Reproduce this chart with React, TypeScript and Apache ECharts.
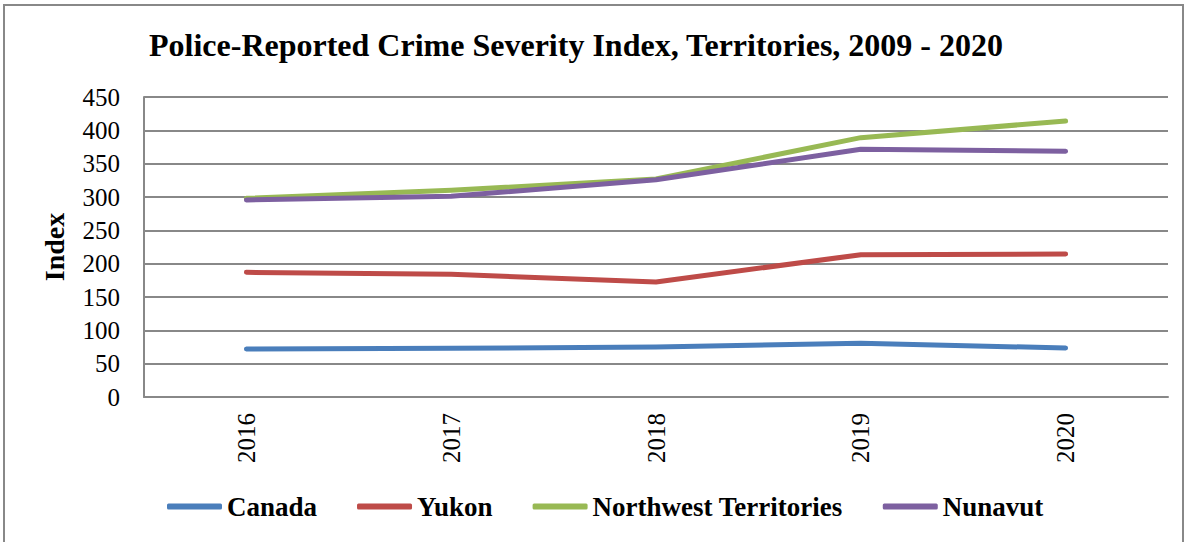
import React, { useEffect, useRef } from "react";
import * as echarts from "echarts";

const years = ["2016", "2017", "2018", "2019", "2020"];
const canada = [72, 73, 75, 80.5, 73.5];
const yukon = [187, 184, 172.5, 213.5, 214.5];
const northwest = [298, 310, 327, 389, 414];
const nunavut = [295.5, 301, 326, 371.5, 368.5];
const seriesNames = ["Canada", "Yukon", "Northwest Territories", "Nunavut"];
const seriesColors = ["#4A7EBB", "#BE4B48", "#98B954", "#7D60A0"];

const serif = "'Liberation Serif', 'Times New Roman', serif";

export default function App() {
  const ref = useRef<HTMLDivElement>(null);
  useEffect(() => {
    if (!ref.current) return;
    const chart = echarts.init(ref.current, undefined, { renderer: "svg" });
    const dataSets = [canada, yukon, northwest, nunavut];
    chart.setOption({
      animation: false,
      backgroundColor: "#ffffff",
      title: {
        text: "Police-Reported Crime Severity Index, Territories, 2009 - 2020",
        left: 144,
        top: 24,
        textStyle: { fontFamily: serif, fontWeight: "bold", fontSize: 32, color: "#000" },
      },
      graphic: [
        {
          type: "rect",
          shape: { x: 4, y: 5, width: 1179, height: 600 },
          style: { fill: "none", stroke: "#888", lineWidth: 2 },
          silent: true,
        },
      ],
      legend: {
        left: 162,
        top: 488,
        itemWidth: 55,
        itemHeight: 6,
        itemGap: 40,
        icon: "roundRect",
        data: seriesNames,
        textStyle: { fontFamily: serif, fontWeight: "bold", fontSize: 27, color: "#000" },
      },
      grid: { left: 144, right: 20, top: 97, height: 300, containLabel: false },
      xAxis: {
        type: "category",
        data: years,
        boundaryGap: true,
        axisLine: { show: true, lineStyle: { color: "#888", width: 2 } },
        axisTick: { show: false },
        axisLabel: {
          rotate: 90,
          margin: 16,
          fontFamily: serif,
          fontSize: 25,
          color: "#000",
        },
      },
      yAxis: {
        type: "value",
        min: 0,
        max: 450,
        interval: 50,
        name: "Index",
        nameLocation: "middle",
        nameRotate: 90,
        nameGap: 76,
        nameTextStyle: { fontFamily: serif, fontWeight: "bold", fontSize: 28, color: "#000" },
        axisLine: { show: true, lineStyle: { color: "#888", width: 2 } },
        axisTick: { show: false },
        axisLabel: { margin: 24, fontFamily: serif, fontSize: 25, color: "#000" },
        splitLine: { show: true, lineStyle: { color: "#888", width: 2 } },
      },
      series: seriesNames.map((name, i) => ({
        name,
        type: "line",
        data: dataSets[i],
        symbol: "none",
        smooth: false,
        color: seriesColors[i],
        lineStyle: { width: 5, color: seriesColors[i], cap: "round", join: "round" },
      })),
    });
    return () => chart.dispose();
  }, []);
  return (
    <div
      ref={ref}
      style={{ position: "fixed", left: 0, top: 0, width: 1188, height: 542 }}
    />
  );
}
